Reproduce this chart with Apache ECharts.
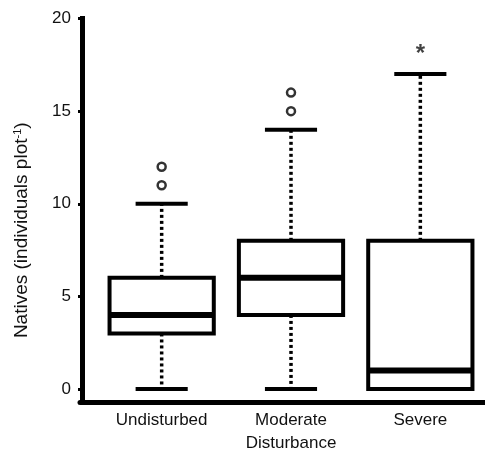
<!DOCTYPE html>
<html>
<head>
<meta charset="utf-8">
<script src="https://cdn.jsdelivr.net/npm/echarts@6/dist/echarts.min.js"></script>
<style>
    html, body { margin: 0; padding: 0; background: #fff; }
</style>
</head>
<body>
<div id="chart" style="width: 485px; height: 453px"></div>
<script>
// data
var categories = ['Undisturbed', 'Moderate', 'Severe']
var whiskerLow = [0, 0, 0]
var q1 = [3, 4, 0]
var median = [4, 6, 1]
var q3 = [6, 8, 8]
var whiskerHigh = [10, 14, 17]
// open circles
var outliers = [[0, 11], [0, 12], [1, 15], [1, 16]]
// asterisk
var extremes = [[2, 18]]
var yTicks = [0, 5, 10, 15, 20]

var boxData = []
for (var i = 0; i < categories.length; i++) {
    boxData.push([i, whiskerLow[i], q1[i], median[i], q3[i], whiskerHigh[i]])
}

var FONT = '"Liberation Sans", Arial, sans-serif'

function renderBox(params, api) {
    var x = api.value(0)
    var pLow = api.coord([x, api.value(1)])
    var pQ1 = api.coord([x, api.value(2)])
    var pMed = api.coord([x, api.value(3)])
    var pQ3 = api.coord([x, api.value(4)])
    var pHigh = api.coord([x, api.value(5)])
    var band = api.size([1, 0])[0]
    var half = band * 0.403
    var cap = half / 2
    var cx = pMed[0]
    var children = []
    // dotted whiskers
    if (pHigh[1] < pQ3[1]) {
        children.push({
            type: 'line',
            shape: { x1: cx, y1: pQ3[1], x2: cx, y2: pHigh[1] },
            style: { stroke: '#000', lineWidth: 3.5, lineDash: [3, 3] }
        })
    }
    if (pLow[1] > pQ1[1]) {
        children.push({
            type: 'line',
            shape: { x1: cx, y1: pQ1[1], x2: cx, y2: pLow[1] },
            style: { stroke: '#000', lineWidth: 3.5, lineDash: [3, 3] }
        })
    }
    // caps
    children.push({
        type: 'line',
        shape: { x1: cx - cap, y1: pHigh[1], x2: cx + cap, y2: pHigh[1] },
        style: { stroke: '#000', lineWidth: 4 }
    })
    children.push({
        type: 'line',
        shape: { x1: cx - cap, y1: pLow[1], x2: cx + cap, y2: pLow[1] },
        style: { stroke: '#000', lineWidth: 4 }
    })
    // box
    children.push({
        type: 'rect',
        shape: { x: cx - half, y: pQ3[1], width: half * 2, height: pQ1[1] - pQ3[1] },
        style: { fill: '#fff', stroke: '#000', lineWidth: 4 }
    })
    // median
    children.push({
        type: 'line',
        shape: { x1: cx - half, y1: pMed[1], x2: cx + half, y2: pMed[1] },
        style: { stroke: '#000', lineWidth: 6 }
    })
    return { type: 'group', children: children }
}

var myChart = echarts.init(document.getElementById('chart'))
var option = {
    animation: false,
    textStyle: { fontFamily: FONT, color: '#111' },
    grid: [
        { left: 97, right: 0, top: 18.5, bottom: 51, outerBoundsMode: 'none' },
        // only for the long x axis line
        { left: 80, right: 0, top: 18.5, bottom: 51, outerBoundsMode: 'none' }
    ],
    xAxis: [
        {
            type: 'category',
            gridIndex: 0,
            data: categories,
            axisLine: { show: false, onZero: false },
            axisTick: { show: false },
            axisLabel: { fontSize: 17, color: '#111', margin: 10, fontFamily: FONT },
            name: 'Disturbance',
            nameLocation: 'middle',
            nameGap: 33,
            nameTextStyle: { fontSize: 17, color: '#111', fontFamily: FONT },
            splitLine: { show: false }
        },
        {
            type: 'value',
            gridIndex: 1,
            min: 0,
            max: 1,
            axisLine: { show: true, onZero: false, lineStyle: { color: '#000', width: 5 } },
            axisTick: { show: false },
            axisLabel: { show: false },
            splitLine: { show: false }
        }
    ],
    yAxis: [
        {
            type: 'value',
            gridIndex: 0,
            min: -0.7,
            max: 20,
            offset: 15,
            axisLine: { show: true, lineStyle: { color: '#000', width: 5, cap: 'square' } },
            axisTick: { show: true, length: 4, customValues: yTicks, lineStyle: { color: '#000', width: 3 } },
            axisLabel: { customValues: yTicks, fontSize: 17, color: '#111', margin: 11, fontFamily: FONT },
            splitLine: { show: false },
            name: 'Natives (individuals plot{sup|-1})',
            nameLocation: 'middle',
            nameGap: 50,
            nameTextStyle: {
                fontSize: 19,
                color: '#111',
                fontFamily: FONT,
                padding: [0, 40, 0, 0],
                rich: {
                    sup: { fontSize: 11, verticalAlign: 'top', color: '#111', fontFamily: FONT, padding: [0, 0, 9, 0] }
                }
            }
        },
        {
            type: 'value',
            gridIndex: 1,
            min: 0,
            max: 1,
            show: false
        }
    ],
    series: [
        {
            type: 'custom',
            xAxisIndex: 0,
            yAxisIndex: 0,
            renderItem: renderBox,
            data: boxData,
            z: 2
        },
        {
            type: 'scatter',
            xAxisIndex: 0,
            yAxisIndex: 0,
            data: outliers,
            symbol: 'circle',
            symbolSize: 8,
            itemStyle: { color: '#fff', borderColor: '#000', borderWidth: 2.5 },
            z: 3
        },
        {
            type: 'scatter',
            xAxisIndex: 0,
            yAxisIndex: 0,
            data: extremes,
            symbol: 'circle',
            symbolSize: 1,
            itemStyle: { color: 'transparent' },
            label: {
                show: true,
                position: 'inside',
                formatter: '*',
                fontSize: 24,
                fontWeight: 'bold',
                color: '#111',
                fontFamily: FONT,
                offset: [0, -1]
            },
            z: 3
        }
    ]
}
myChart.setOption(option)
</script>
</body>
</html>
